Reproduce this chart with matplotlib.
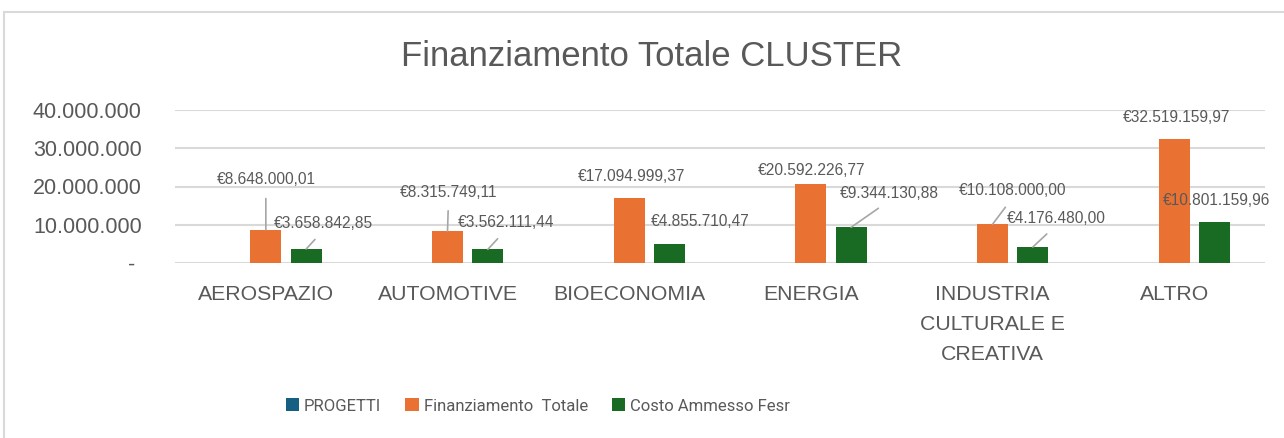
import numpy as np
import matplotlib
matplotlib.use("Agg")
import matplotlib.pyplot as plt
from matplotlib.patches import Rectangle

# --- data -------------------------------------------------------------
categories = ["AEROSPAZIO", "AUTOMOTIVE", "BIOECONOMIA", "ENERGIA",
              "INDUSTRIA\nCULTURALE E\nCREATIVA", "ALTRO"]
progetti = [4, 4, 8, 10, 5, 18]  # counts, too small to show on this scale
finanziamento = [8648000.01, 8315749.11, 17094999.37, 20592226.77,
                 10108000.00, 32519159.97]
costo_fesr = [3658842.85, 3562111.44, 4855710.47, 9344130.88,
              4176480.00, 10801159.96]
yticks = [0, 10e6, 20e6, 30e6, 40e6]

BLUE = "#156082"
ORANGE = "#E97132"
GREEN = "#196B24"
TXT = "#595959"

plt.rcParams['font.family'] = ['Liberation Sans', 'DejaVu Sans']


def euro(v):
    s = f"{v:,.2f}"
    s = s.replace(",", "X").replace(".", ",").replace("X", ".")
    return "€" + s


def thousands(v, pos=None):
    if v == 0:
        return "- "
    return f"{v:,.0f}".replace(",", ".")


W, H = 1284, 438
fig = plt.figure(figsize=(W / 100, H / 100), dpi=100)

# chart border (Excel chart area)
fig.patches.append(Rectangle((3.5 / W, -0.1), 1.2, (438 - 12) / H + 0.1,
                             transform=fig.transFigure, fill=False,
                             edgecolor="#D9D9D9", linewidth=1.5))

ax = fig.add_axes([175 / W, (438 - 263) / H, (1265 - 175) / W, (263 - 110) / H])
x = np.arange(len(categories))
bw = 0.172
step = 0.222
ax.bar(x - step, progetti, bw, color=BLUE, label="PROGETTI")
ax.bar(x, finanziamento, bw, color=ORANGE, label="Finanziamento  Totale")
ax.bar(x + step, costo_fesr, bw, color=GREEN, label="Costo Ammesso Fesr")

ax.set_xlim(-0.5, len(categories) - 0.5)
ax.set_ylim(0, 40e6)
ax.set_yticks(yticks)
ax.yaxis.set_major_formatter(plt.FuncFormatter(thousands))
ax.set_xticks(x)
ax.set_xticklabels(categories, linespacing=1.72, va="top")
ax.tick_params(axis="y", length=0, pad=24, labelsize=15.5, labelcolor=TXT)
ax.tick_params(axis="x", length=0, pad=16, labelsize=15.3, labelcolor=TXT)
ax.grid(axis="y", color="#D9D9D9", linewidth=1.5)
ax.set_axisbelow(True)
for s in ax.spines.values():
    s.set_visible(False)

# data labels: label centre offset from bar top (px, dy upwards), leader line yes/no
orange_off = [(0, 50, True), (1, 39, True), (2, 21, False),
              (1, 14, False), (20, 34, True), (2, 21, False)]
green_off = [(17, 26, True), (18, 27, True), (31, 23, False),
             (38, 34, True), (23, 29, True), (2, 21, False)]
PX = 72 / 100


def label(xc, val, off):
    dx, dy, lead = off
    ax.annotate(euro(val), xy=(xc, val), xytext=(dx * PX, dy * PX),
                textcoords="offset points", ha="center", va="center",
                fontsize=11.2, color=TXT, annotation_clip=False,
                arrowprops=dict(arrowstyle="-", color="#A6A6A6", lw=1.2,
                                relpos=(0.5, 0), shrinkA=6, shrinkB=0) if lead else None)


for i in range(len(categories)):
    label(x[i], finanziamento[i], orange_off[i])
    label(x[i] + step, costo_fesr[i], green_off[i])

fig.text(652 / W, 1 - 56 / H, "Finanziamento Totale CLUSTER", ha="center",
         va="center", fontsize=25, color=TXT)

fig.legend(loc="center", bbox_to_anchor=(538 / W, 1 - 406 / H), ncol=3,
           frameon=False, labelcolor=TXT, handlelength=0.8,
           handleheight=0.8, handletextpad=0.3, columnspacing=1.45,
           prop={"family": "Roboto", "size": 12})

fig.savefig("out.png", dpi=100, facecolor="white")
